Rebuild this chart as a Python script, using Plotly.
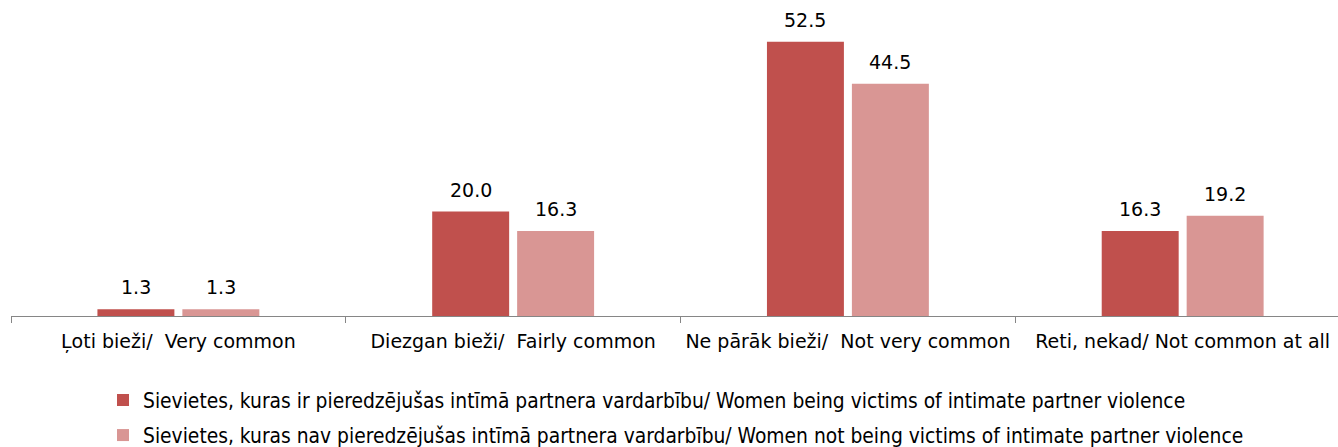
import plotly.graph_objects as go

categories = [
    "Ļoti bieži/\u00a0 Very common",
    "Diezgan bieži/\u00a0 Fairly common",
    "Ne pārāk bieži/\u00a0 Not very common",
    "Reti, nekad/ Not common at all",
]
victims = [1.3, 20.0, 52.5, 16.3]
non_victims = [1.3, 16.3, 44.5, 19.2]

series_names = [
    "Sievietes, kuras ir pieredzējušas intīmā partnera vardarbību/ Women being victims of intimate partner violence",
    "Sievietes, kuras nav pieredzējušas intīmā partnera vardarbību/ Women not being victims of intimate partner violence",
]
colors = ["#C0504D", "#D99694"]

fig = go.Figure()
for i, (vals, name, col) in enumerate(zip([victims, non_victims], series_names, colors)):
    fig.add_trace(go.Bar(
        x=categories, y=vals, name=name, marker=dict(color=col, line=dict(width=0)),
        legendgroup=f"g{i}",
    ))

# value labels above each bar
offset = 42.5
for vals, sign in [(victims, -1), (non_victims, 1)]:
    for c, v in zip(categories, vals):
        fig.add_annotation(
            x=c, y=v, text=f"{v:.1f}", showarrow=False,
            xshift=sign * offset, yshift=22, yanchor="middle",
            font=dict(family="DejaVu Sans", size=19, color="#000000"),
        )

fig.update_layout(
    width=1338, height=447,
    margin=dict(l=11, r=0, t=10, b=131, autoexpand=False),
    paper_bgcolor="white", plot_bgcolor="white",
    barmode="group", bargap=0.4925, bargroupgap=0.094,
    showlegend=True,
    legend=dict(
        x=(103 - 11) / 1327, xanchor="left",
        y=(447 - 380) / 447, yanchor="top", yref="container",
        font=dict(family="DejaVu Sans Condensed", size=20.8, color="#000000"),
        tracegroupgap=5, itemwidth=30,
        bgcolor="rgba(0,0,0,0)",
    ),
    xaxis=dict(
        type="category", range=[-0.5, 3.464],
        tickson="boundaries", ticks="outside", ticklen=6, tickcolor="#868686",
        showline=True, linecolor="#868686", linewidth=1,
        tickfont=dict(family="DejaVu Sans", size=19, color="#000000"),
        ticklabelstandoff=8,
        showgrid=False, automargin=False,
    ),
    yaxis=dict(
        range=[0, 58.6], visible=False, showgrid=False, zeroline=False,
    ),
)

fig.write_html("out.html")
